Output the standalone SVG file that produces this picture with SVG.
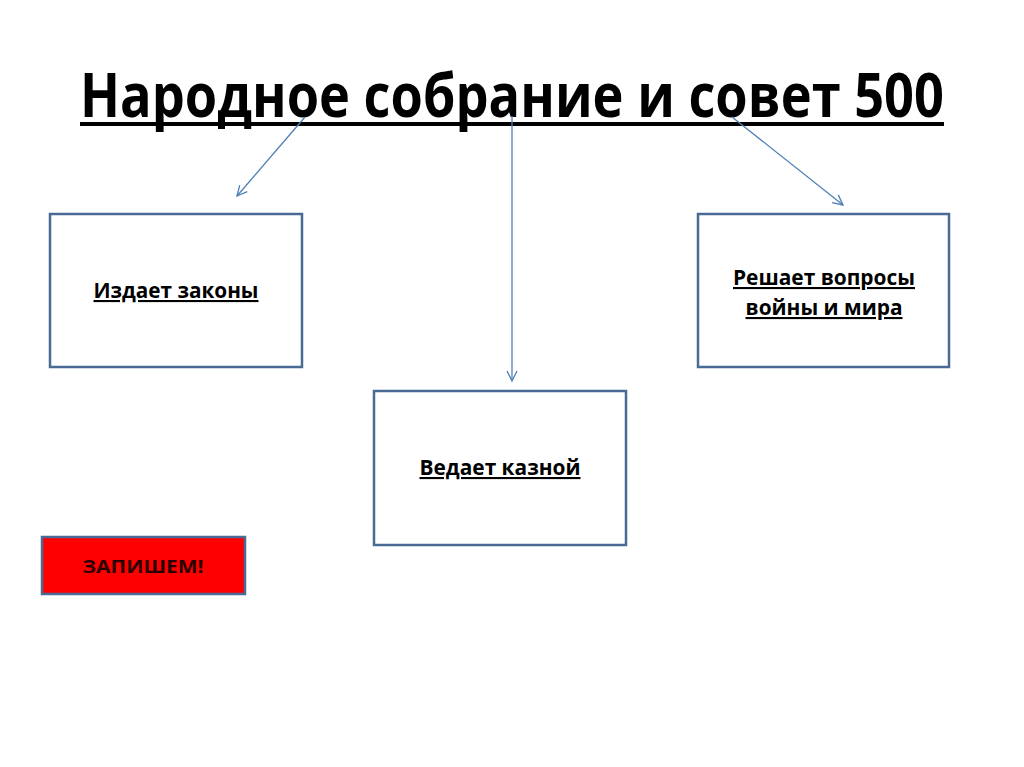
<svg xmlns="http://www.w3.org/2000/svg" width="1024" height="767" viewBox="0 0 1024 767">
<defs>
<style>
.box{fill:#fff;stroke:#4a6a96;stroke-width:2.5}
.t{font-family:"Open Sans","Liberation Sans",sans-serif;font-weight:bold;fill:#000;text-decoration:underline}
.c{stroke:#4f7fb5;stroke-width:1.3;fill:none}
</style>
<marker id="ah" viewBox="0 0 12 12" refX="11" refY="6" markerWidth="12" markerHeight="12" markerUnits="userSpaceOnUse" orient="auto">
<path d="M1,1 L11,6 L1,11" fill="none" stroke="#4f7fb5" stroke-width="1.3"/>
</marker>
</defs>
<rect width="1024" height="767" fill="#fff"/>
<g id="title">
<text class="t" x="512" y="117" text-anchor="middle" font-size="60" textLength="864" lengthAdjust="spacingAndGlyphs" style="text-decoration:none">Народное собрание и совет 500</text>
<rect x="80" y="122" width="864" height="4" fill="#000"/>
</g>
<g id="connectors">
<line class="c" x1="305" y1="117" x2="237" y2="196" marker-end="url(#ah)"/>
<line class="c" x1="512" y1="116" x2="512" y2="381" marker-end="url(#ah)"/>
<line class="c" x1="732" y1="117" x2="843" y2="205" marker-end="url(#ah)"/>
</g>
<g id="n1">
<rect class="box" x="50" y="214" width="252" height="153"/>
<text class="t" x="176" y="298" text-anchor="middle" font-size="21" textLength="165" lengthAdjust="spacingAndGlyphs">Издает законы</text>
</g>
<g id="n2">
<rect class="box" x="374" y="391" width="252" height="154"/>
<text class="t" x="500" y="475" text-anchor="middle" font-size="21" textLength="161" lengthAdjust="spacingAndGlyphs">Ведает казной</text>
</g>
<g id="n3">
<rect class="box" x="698" y="214" width="251" height="153"/>
<text class="t" x="824" y="285" text-anchor="middle" font-size="21" textLength="182" lengthAdjust="spacingAndGlyphs">Решает вопросы</text>
<text class="t" x="824" y="315" text-anchor="middle" font-size="21" textLength="157" lengthAdjust="spacingAndGlyphs">войны и мира</text>
</g>
<g id="n4">
<rect x="42" y="537" width="203" height="57" fill="#ff0000" stroke="#4a6a96" stroke-width="2.5"/>
<text x="143" y="573" text-anchor="middle" font-family="Open Sans, Liberation Sans, sans-serif" font-weight="bold" font-size="18" fill="#2a0000" textLength="121" lengthAdjust="spacingAndGlyphs">ЗАПИШЕМ!</text>
</g>
</svg>
